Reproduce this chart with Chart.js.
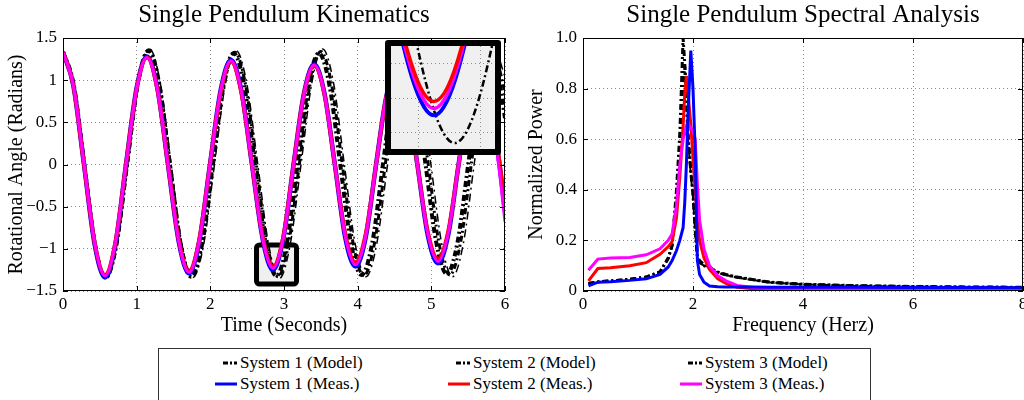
<!DOCTYPE html>
<html>
<head>
<meta charset="utf-8">
<script src="https://cdn.jsdelivr.net/npm/chart.js@4.4.0/dist/chart.umd.min.js"></script>
<style>
  html, body { margin: 0; padding: 0; background: #fff; overflow: hidden; width: 1024px; height: 400px; }
  #wrap { position: relative; width: 1024px; height: 400px; overflow: hidden; }
  #kin { position: absolute; left: 0; top: 0; }
  #spec { position: absolute; left: 520px; top: 0; }
  #inset { position: absolute; left: 385px; top: 40px; width: 104px; height: 103px;
           border: 6px solid #000; border-radius: 3px; background: #f0f0f0; }
  #inset canvas { display: block; }
  #legend { position: absolute; left: 158px; top: 348px; width: 711px; height: 70px;
            border: 1px solid #333; font-family: "Liberation Serif", "Times New Roman", serif;
            font-size: 17px; color: #000; }
  .item { position: absolute; height: 20px; line-height: 20px; display: flex; align-items: center; white-space: nowrap; }
  .item svg { margin-right: 3px; }
</style>
</head>
<body>
<div id="wrap">
  <canvas id="kin" width="520" height="340"></canvas>
  <canvas id="spec" width="512" height="340"></canvas>
  <div id="inset"><canvas id="insetCanvas" width="104" height="103"></canvas></div>
  <div id="legend"></div>
</div>
<script>
// ---- time-domain data (seconds / radians) ----
const measT = [0, 0.14, 0.285, 0.43, 0.57, 0.71, 0.855, 1.0, 1.14, 1.28, 1.425, 1.57, 1.71, 1.85, 1.995,
  2.14, 2.28, 2.42, 2.565, 2.71, 2.85, 2.99, 3.13, 3.27, 3.41, 3.55, 3.69, 3.83, 3.97, 4.11, 4.25,
  4.39, 4.53, 4.67, 4.81, 4.95, 5.09, 5.23, 5.37, 5.51, 5.65, 5.79, 5.91, 6.0];
const meas1 = [1.33, 0.94, 0, -0.95, -1.34, -0.95, 0, 0.91, 1.28, 0.91, 0, -0.91, -1.29, -0.91, 0,
  0.88, 1.24, 0.88, 0, -0.88, -1.25, -0.88, 0, 0.84, 1.19, 0.84, 0, -0.86, -1.21, -0.86, 0,
  0.81, 1.15, 0.81, 0, -0.83, -1.17, -0.83, 0, 0.78, 1.11, 0.76, 0.1, -0.55];
const meas2 = [1.34, 0.94, 0, -0.93, -1.31, -0.93, 0, 0.90, 1.27, 0.90, 0, -0.89, -1.26, -0.89, 0,
  0.86, 1.22, 0.86, 0, -0.86, -1.21, -0.86, 0, 0.83, 1.17, 0.83, 0, -0.82, -1.16, -0.82, 0,
  0.80, 1.13, 0.80, 0, -0.79, -1.12, -0.79, 0, 0.77, 1.09, 0.76, 0.12, -0.48];
const meas3 = [1.33, 0.94, 0, -0.93, -1.32, -0.93, 0, 0.90, 1.27, 0.90, 0, -0.90, -1.28, -0.90, 0,
  0.87, 1.23, 0.87, 0, -0.87, -1.23, -0.87, 0, 0.83, 1.18, 0.83, 0, -0.84, -1.19, -0.84, 0,
  0.81, 1.14, 0.81, 0, -0.81, -1.15, -0.81, 0, 0.78, 1.10, 0.74, 0.02, -0.68];

const model1T = [0, 0.145, 0.2895, 0.434, 0.579, 0.724, 0.8685, 1.013, 1.158, 1.303, 1.4475, 1.592, 1.737,
  1.882, 2.0265, 2.171, 2.316, 2.461, 2.6055, 2.75, 2.895, 3.04, 3.1845, 3.329, 3.474, 3.619, 3.7635,
  3.908, 4.053, 4.198, 4.3425, 4.487, 4.632, 4.777, 4.9215, 5.066, 5.211, 5.356, 5.5005, 5.645, 5.79, 5.935, 6.0];
const model1 = [1.34, 0.95, 0, -0.95, -1.34, -0.95, 0, 0.95, 1.35, 0.95, 0, -0.94, -1.33, -0.94, 0,
  0.93, 1.32, 0.93, 0, -0.93, -1.32, -0.93, 0, 0.93, 1.32, 0.93, 0, -0.93, -1.31, -0.93, 0,
  0.93, 1.31, 0.93, 0, -0.92, -1.30, -0.92, 0, 0.92, 1.30, 0.92, 0.55];
const model2T = [0, 0.146, 0.292, 0.4375, 0.583, 0.729, 0.875, 1.021, 1.167, 1.3125, 1.458, 1.604, 1.75,
  1.896, 2.042, 2.1875, 2.333, 2.479, 2.625, 2.771, 2.917, 3.0625, 3.208, 3.354, 3.5, 3.646, 3.792,
  3.9375, 4.083, 4.229, 4.375, 4.521, 4.667, 4.8125, 4.958, 5.104, 5.25, 5.396, 5.542, 5.6875, 5.833, 5.979, 6.0];
const model2 = [1.33, 0.94, 0, -0.95, -1.34, -0.95, 0, 0.96, 1.36, 0.96, 0, -0.94, -1.33, -0.94, 0,
  0.94, 1.33, 0.94, 0, -0.94, -1.33, -0.94, 0, 0.95, 1.34, 0.95, 0, -0.93, -1.32, -0.93, 0,
  0.93, 1.32, 0.93, 0, -0.93, -1.31, -0.93, 0, 0.93, 1.31, 0.93, 0.82];
const model3T = [0, 0.147, 0.294, 0.441, 0.5875, 0.734, 0.881, 1.028, 1.175, 1.322, 1.469, 1.616, 1.7625,
  1.909, 2.056, 2.203, 2.35, 2.497, 2.644, 2.791, 2.9375, 3.084, 3.231, 3.378, 3.525, 3.672, 3.819,
  3.966, 4.1125, 4.259, 4.406, 4.553, 4.7, 4.847, 4.994, 5.141, 5.2875, 5.434, 5.581, 5.728, 5.875, 6.0];
const model3 = [1.33, 0.94, 0, -0.95, -1.35, -0.95, 0, 0.96, 1.37, 0.96, 0, -0.95, -1.34, -0.95, 0,
  0.95, 1.35, 0.95, 0, -0.95, -1.35, -0.95, 0, 0.97, 1.37, 0.97, 0, -0.94, -1.33, -0.94, 0,
  0.94, 1.33, 0.94, 0, -0.94, -1.33, -0.94, 0, 0.93, 1.32, 1.04];

// ---- spectral data (Hz / normalized power) ----
const freq = [0.1, 0.27, 0.5, 0.85, 1.15, 1.4, 1.55, 1.62, 1.7, 1.76, 1.82, 1.85, 1.88, 1.91, 1.96,
  2.0, 2.04, 2.08, 2.12, 2.2, 2.3, 2.45, 2.6, 2.8, 3.1, 3.4, 4.0, 5.0, 6.0, 7.0, 8.0];
const specMeas1 = [0.02, 0.035, 0.037, 0.042, 0.048, 0.066, 0.095, 0.12, 0.16, 0.2, 0.25, 0.35, 0.5, 0.7, 0.95,
  0.8, 0.55, 0.12, 0.065, 0.035, 0.02, 0.017, 0.016, 0.016, 0.016, 0.015, 0.015, 0.015, 0.014, 0.014, 0.013];
const specMeas2 = [0.04, 0.089, 0.092, 0.1, 0.112, 0.145, 0.175, 0.195, 0.29, 0.45, 0.65, 0.78, 0.85, 0.78, 0.66,
  0.52, 0.4, 0.28, 0.2, 0.13, 0.085, 0.048, 0.03, 0.015, 0.009, 0.006, 0.006, 0.006, 0.006, 0.006, 0.006];
const specMeas3 = [0.082, 0.126, 0.13, 0.132, 0.143, 0.167, 0.2, 0.225, 0.34, 0.5, 0.6, 0.63, 0.655, 0.66, 0.645,
  0.635, 0.6, 0.42, 0.28, 0.165, 0.1, 0.06, 0.04, 0.022, 0.014, 0.011, 0.01, 0.009, 0.009, 0.009, 0.009];
const specModel1 = [0.03, 0.036, 0.04, 0.046, 0.055, 0.075, 0.13, 0.18, 0.4, 0.62, 1.0, 0.9, 0.75, 0.6, 0.48,
  0.4, 0.25, 0.14, 0.12, 0.105, 0.093, 0.075, 0.065, 0.055, 0.045, 0.035, 0.027, 0.021, 0.018, 0.016, 0.015];
const specModel2 = [0.03, 0.036, 0.04, 0.046, 0.055, 0.075, 0.13, 0.18, 0.38, 0.58, 0.82, 0.89, 0.78, 0.62, 0.47,
  0.38, 0.24, 0.13, 0.115, 0.1, 0.09, 0.073, 0.064, 0.054, 0.044, 0.034, 0.026, 0.02, 0.017, 0.015, 0.014];
const specModel3 = [0.03, 0.036, 0.04, 0.046, 0.055, 0.075, 0.13, 0.18, 0.36, 0.5, 0.6, 0.62, 0.63, 0.6, 0.46,
  0.37, 0.23, 0.13, 0.11, 0.1, 0.09, 0.072, 0.063, 0.053, 0.043, 0.034, 0.026, 0.02, 0.017, 0.015, 0.014];

// ---- labels / ranges ----
const seriesNames = ['System 1 (Model)', 'System 2 (Model)', 'System 3 (Model)',
  'System 1 (Meas.)', 'System 2 (Meas.)', 'System 3 (Meas.)'];
const zoomBoxT = [2.627, 3.17];      // window marked on the main plot
const zoomBoxA = [-1.417, -0.954];
const insetT = [2.712, 3.047];       // what the inset shows
const insetA = [-1.347, -1.05];
const insetTTicks = [2.8, 3.0];
const insetATicks = [-1.3, -1.2, -1.1];

const BLUE = '#0000ff', RED = '#ff0000', MAGENTA = '#ff00ff', BLACK = '#000000';
const serif = '"Liberation Serif", "Times New Roman", serif';
Chart.defaults.font.family = serif;
Chart.defaults.color = '#000';

const pts = (xs, ys) => xs.map((x, i) => ({ x: x, y: ys[i] }));

const measLine = (data, color, width) => ({
  data: data, borderColor: color, borderWidth: width, pointRadius: 0,
  cubicInterpolationMode: 'monotone', fill: false
});
const modelLine = (data, width, dash) => ({
  data: data, borderColor: BLACK, borderWidth: width, pointRadius: 0,
  borderDash: dash, cubicInterpolationMode: 'monotone', fill: false
});

// box round the plot area plus the little inward ticks
const framePlugin = {
  id: 'frame',
  afterDraw(chart) {
    const { ctx, chartArea: a, scales } = chart;
    ctx.save();
    ctx.strokeStyle = '#000';
    ctx.lineWidth = 1;
    ctx.strokeRect(a.left + 0.5, a.top + 0.5, a.right - a.left - 1, a.bottom - a.top - 1);
    ctx.beginPath();
    scales.x.ticks.forEach(t => {
      const px = Math.round(scales.x.getPixelForValue(t.value)) + 0.5;
      ctx.moveTo(px, a.bottom); ctx.lineTo(px, a.bottom - 5);
      ctx.moveTo(px, a.top); ctx.lineTo(px, a.top + 5);
    });
    scales.y.ticks.forEach(t => {
      const py = Math.round(scales.y.getPixelForValue(t.value)) + 0.5;
      ctx.moveTo(a.left, py); ctx.lineTo(a.left + 5, py);
      ctx.moveTo(a.right, py); ctx.lineTo(a.right - 5, py);
    });
    ctx.stroke();
    ctx.restore();
  }
};

// grey window that the inset blows up
const zoomBoxPlugin = {
  id: 'zoomBox',
  beforeDatasetsDraw(chart) {
    const { ctx, scales: { x, y } } = chart;
    const l = x.getPixelForValue(zoomBoxT[0]), r = x.getPixelForValue(zoomBoxT[1]);
    const t = y.getPixelForValue(zoomBoxA[1]), b = y.getPixelForValue(zoomBoxA[0]);
    ctx.save();
    ctx.beginPath();
    ctx.roundRect(l, t, r - l, b - t, 3);
    ctx.fillStyle = '#f0f0f0';
    ctx.fill();
    ctx.lineWidth = 5;
    ctx.strokeStyle = '#000';
    ctx.stroke();
    ctx.restore();
  }
};

const gridOpts = { color: '#8c8c8c', drawTicks: false };
const borderOpts = { display: false, dash: [1, 3] };
const titleFont = { size: 25, weight: 'normal' };
const axisTitleFont = { size: 20 };
const tickFont = { size: 17 };

function mainOptions(title, xTitle, yTitle, xMax, xStep, yMin, yMax, yStep, yFmt, padRight) {
  return {
    responsive: false,
    animation: false,
    layout: { padding: { left: 0, right: padRight, top: 0, bottom: 0 } },
    plugins: {
      legend: { display: false },
      tooltip: { enabled: false },
      title: { display: true, text: title, fullSize: false, font: titleFont, color: '#000',
               padding: { top: 0, bottom: 8 } }
    },
    scales: {
      x: {
        type: 'linear', min: 0, max: xMax,
        ticks: { stepSize: xStep, font: tickFont, padding: 3, maxRotation: 0, color: '#000' },
        grid: gridOpts, border: borderOpts,
        title: { display: true, text: xTitle, font: axisTitleFont, color: '#000', padding: { top: 0, bottom: 2 } },
        afterFit: s => { s.height = 49; }
      },
      y: {
        type: 'linear', min: yMin, max: yMax,
        ticks: { stepSize: yStep, font: tickFont, padding: 6, color: '#000', callback: yFmt },
        grid: gridOpts, border: borderOpts,
        title: { display: true, text: yTitle, font: axisTitleFont, color: '#000', padding: { top: 5, bottom: 0 } },
        afterFit: s => { s.width = 63; }
      }
    }
  };
}

const angleFmt = v => {
  const r = Math.round(v * 10) / 10;
  return (r < 0 ? '\u2212' : '') + Math.abs(r);
};
const powerFmt = v => (Math.abs(v) < 1e-9 ? '0' : (Math.round(v * 10) / 10).toFixed(1));

const modelDash = [6, 3, 2, 3];

// ---- left: kinematics ----
new Chart(document.getElementById('kin'), {
  type: 'line',
  data: {
    datasets: [
      measLine(pts(measT, meas3), MAGENTA, 3),
      measLine(pts(measT, meas2), RED, 4),
      measLine(pts(measT, meas1), BLUE, 4.5),
      modelLine(pts(model1T, model1), 4, modelDash),
      modelLine(pts(model2T, model2), 3, modelDash),
      modelLine(pts(model3T, model3), 1.5, [8, 4, 2, 4])
    ]
  },
  options: mainOptions('Single Pendulum Kinematics', 'Time (Seconds)', 'Rotational Angle (Radians)',
    6, 1, -1.5, 1.5, 0.5, angleFmt, 15),
  plugins: [zoomBoxPlugin, framePlugin]
});

// ---- right: spectra ----
new Chart(document.getElementById('spec'), {
  type: 'line',
  data: {
    datasets: [
      { data: pts(freq, specMeas1), borderColor: BLUE, borderWidth: 3, pointRadius: 0, tension: 0 },
      { data: pts(freq, specMeas3), borderColor: MAGENTA, borderWidth: 3, pointRadius: 0, tension: 0 },
      { data: pts(freq, specMeas2), borderColor: RED, borderWidth: 3, pointRadius: 0, tension: 0 },
      { data: pts(freq, specModel1), borderColor: BLACK, borderWidth: 3, borderDash: modelDash, pointRadius: 0, tension: 0 },
      { data: pts(freq, specModel2), borderColor: BLACK, borderWidth: 3, borderDash: modelDash, pointRadius: 0, tension: 0 },
      { data: pts(freq, specModel3), borderColor: BLACK, borderWidth: 2, borderDash: modelDash, pointRadius: 0, tension: 0 }
    ]
  },
  options: mainOptions('Single Pendulum Spectral Analysis', 'Frequency (Herz)', 'Normalized Power',
    8, 2, 0, 1, 0.2, powerFmt, 9),
  plugins: [framePlugin]
});

// ---- inset: close-up of the third trough ----
new Chart(document.getElementById('insetCanvas'), {
  type: 'line',
  data: {
    datasets: [
      measLine(pts(measT, meas2), RED, 3.5),
      measLine(pts(measT, meas3), MAGENTA, 3.5),
      measLine(pts(measT, meas1), BLUE, 4),
      modelLine(pts(model2T, model2), 2.5, [7, 3, 2, 3])
    ]
  },
  options: {
    responsive: false,
    animation: false,
    layout: { padding: 0 },
    plugins: { legend: { display: false }, tooltip: { enabled: false }, title: { display: false } },
    scales: {
      x: {
        type: 'linear', min: insetT[0], max: insetT[1],
        ticks: { display: false }, grid: gridOpts, border: borderOpts,
        afterBuildTicks: s => { s.ticks = insetTTicks.map(v => ({ value: v })); }
      },
      y: {
        type: 'linear', min: insetA[0], max: insetA[1],
        ticks: { display: false }, grid: gridOpts, border: borderOpts,
        afterBuildTicks: s => { s.ticks = insetATicks.map(v => ({ value: v })); }
      }
    }
  }
});

// ---- shared legend under both plots ----
const legendCols = [54, 287, 519];
const legendRows = [4, 25];
const legendStyles = [
  { color: BLACK, dash: true }, { color: BLACK, dash: true }, { color: BLACK, dash: true },
  { color: BLUE, dash: false }, { color: RED, dash: false }, { color: MAGENTA, dash: false }
];
const legendEl = document.getElementById('legend');
seriesNames.forEach((name, i) => {
  const st = legendStyles[i];
  const item = document.createElement('div');
  item.className = 'item';
  item.style.left = legendCols[i % 3] + 'px';
  item.style.top = legendRows[Math.floor(i / 3)] + 'px';
  const line = st.dash
    ? '<line x1="10" y1="10" x2="24" y2="10" stroke="' + st.color + '" stroke-width="3" stroke-dasharray="5,2,2,2"/>'
    : '<line x1="2" y1="10" x2="24" y2="10" stroke="' + st.color + '" stroke-width="3"/>';
  item.innerHTML = '<svg width="24" height="20">' + line + '</svg><span>' + name + '</span>';
  legendEl.appendChild(item);
});
</script>
</body>
</html>
